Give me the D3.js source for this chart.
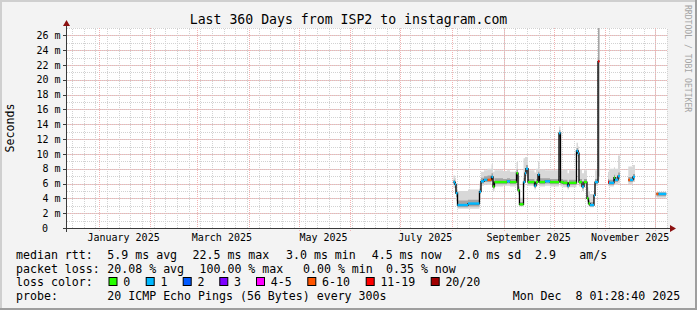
<!DOCTYPE html>
<html>
<head>
<meta charset="utf-8">
<script src="https://cdn.jsdelivr.net/npm/d3@7"></script>
<style>
  body { margin: 0; background: #fff; }
  svg { display: block; }
  text { font-family: "DejaVu Sans Mono", monospace; fill: #000; white-space: pre; }
</style>
</head>
<body>
<svg id="chart" width="697" height="310"></svg>
<script>
// sample start times (one sample lasts until the next start)
var times = [
  "2025-08-01T23:00", "2025-08-02T21:00", "2025-08-03T11:00", "2025-08-04T09:00", "2025-08-10T16:00",
  "2025-08-17T13:00", "2025-08-18T11:00", "2025-08-20T06:00", "2025-08-22T09:00", "2025-08-24T18:00",
  "2025-08-25T16:00", "2025-08-26T13:00", "2025-08-31T16:00", "2025-09-03T01:00", "2025-09-04T21:00",
  "2025-09-08T18:00", "2025-09-09T16:00", "2025-09-10T13:00", "2025-09-12T23:00", "2025-09-13T21:00",
  "2025-09-14T11:00", "2025-09-15T16:00", "2025-09-19T13:00", "2025-09-20T11:00", "2025-09-21T16:00",
  "2025-09-22T13:00", "2025-09-25T21:00", "2025-09-28T21:00", "2025-10-04T06:00", "2025-10-05T04:00",
  "2025-10-06T16:00", "2025-10-09T09:00", "2025-10-10T06:00", "2025-10-14T18:00", "2025-10-15T16:00",
  "2025-10-16T06:00", "2025-10-18T01:00", "2025-10-19T06:00", "2025-10-21T01:00", "2025-10-21T23:00",
  "2025-10-22T21:00", "2025-10-25T06:00", "2025-10-25T21:00", "2025-10-27T16:00", "2025-10-28T13:00",
  "2025-11-02T16:00", "2025-11-03T06:00", "2025-11-06T06:00", "2025-11-06T21:00", "2025-11-08T16:00",
  "2025-11-09T21:00", "2025-11-14T20:00", "2025-11-15T21:00", "2025-11-17T16:00", "2025-11-18T21:00",
  "2025-12-01T18:00", "2025-12-02T23:00", "2025-12-07T14:00"
];
// median rtt in ms (null = no data)
var median = [
  6.2, 5.9, 4.7, 3.1, 3.3,
  4.9, 6.3, 6.5, 6.5, 6.9,
  5.6, 6.2, 6.2, 6.3, 6.2,
  7.4, 5.1, 3.2, 6.2, 7.4,
  8.0, 6.2, 5.7, 6.2, 7.2,
  6.2, 6.3, 6.2, 12.8, 6.2,
  6.1, 5.7, 6.1, 10.4, 10.1,
  6.2, 5.6, 6.2, 4.0, 3.3,
  3.1, 4.4, 6.2, 22.5, null,
  6.2, 6.1, 6.8, 6.5, 7.0,
  null, 6.5, 6.5, 6.9, null,
  4.6, 4.6, null
];
// index into the loss colour legend
var loss = [
  1, 1, 1, 1, 1,
  1, 1, 1, 5, 1,
  0, 0, 0, 1, 0,
  0, 0, 0, 1, 1,
  1, 0, 1, 0, 1,
  0, 1, 0, 1, 0,
  0, 1, 0, 1, 1,
  0, 1, 0, 0, 0,
  1, 1, 1, 6, 0,
  6, 1, 0, 1, 1,
  0, 5, 1, 1, 0,
  5, 1, 0
];
// outer smoke (lightest) and inner smoke, ms
var smokeLo = [
  5.4, 4.6, 3.6, 2.6, 2.6,  4.2, 5.7, 5.9, 5.8, 6.2,  5.0, 5.6, 5.7, 5.7, 5.6,
  6.6, 4.5, 2.9, 5.5, 6.6,  7.0, 5.7, 5.2, 5.7, 6.4,  5.6, 5.7, 5.6, 11.8, 5.6,
  5.5, 5.2, 5.5, 9.7, 9.4,  5.6, 5.0, 5.6, 3.5, 2.9,  2.8, 4.0, 5.7, 6.5, null,
  5.7, 5.6, 6.0, 5.8, 6.0,  null, 5.9, 5.9, 6.2, null,  4.1, 4.1, null
];
var smokeHi = [
  7.1, 6.8, 5.8, 5.0, 5.2,  6.0, 7.6, 7.8, 8.0, 8.6,  7.6, 7.8, 7.7, 7.8, 7.6,
  8.9, 7.0, 4.1, 9.4, 9.6,  9.6, 7.8, 7.5, 8.0, 9.0,  7.9, 7.8, 7.8, 13.7, 7.8,
  7.9, 7.4, 7.8, 11.5, 11.0,  7.9, 7.4, 7.8, 5.5, 5.0,  4.6, 5.8, 7.8, 27.5, null,
  7.6, 8.0, 8.2, 8.0, 9.8,  null, 8.3, 8.3, 8.5, null,  4.9, 4.9, null
];
var coreLo = [
  5.9, 5.4, 4.2, 2.8, 2.9,  4.6, 6.0, 6.2, 6.2, 6.5,  5.3, 5.9, 5.9, 6.0, 5.9,
  7.0, 4.8, 3.0, 5.9, 7.0,  7.6, 5.9, 5.4, 5.9, 6.8,  5.9, 6.0, 5.9, 12.3, 5.9,
  5.8, 5.4, 5.8, 10.0, 9.8,  5.9, 5.3, 5.9, 3.7, 3.1,  2.9, 4.2, 5.9, 7.0, null,
  5.9, 5.8, 6.4, 6.2, 6.6,  null, 6.2, 6.2, 6.5, null,  4.3, 4.3, null
];
var coreHi = [
  6.5, 6.2, 5.1, 3.7, 3.8,  5.3, 6.8, 7.0, 7.1, 7.4,  6.2, 6.7, 6.6, 6.7, 6.6,
  7.9, 5.6, 3.5, 6.8, 7.9,  8.5, 6.6, 6.2, 6.6, 7.6,  6.7, 6.7, 6.6, 13.2, 6.6,
  6.5, 6.1, 6.5, 10.8, 10.5,  6.6, 6.0, 6.6, 4.4, 3.7,  3.5, 4.8, 6.6, 27.5, null,
  6.6, 6.5, 7.2, 6.9, 7.5,  null, 6.9, 6.9, 7.3, null,  4.8, 4.8, null
];

var lossLabels = ["0", "1", "2", "3", "4-5", "6-10", "11-19", "20/20"];
var lossColors = ["#26ff00", "#00b8ff", "#0059ff", "#7e00ff", "#ff00ff", "#ff5500", "#ff0000", "#a10000"];

var yTickValues = [0, 2, 4, 6, 8, 10, 12, 14, 16, 18, 20, 22, 24, 26];
var yTickLabels = ["0", "2 m", "4 m", "6 m", "8 m", "10 m", "12 m", "14 m", "16 m", "18 m", "20 m", "22 m", "24 m", "26 m"];
var xLabelMonths = ["2025-01-01", "2025-03-01", "2025-05-01", "2025-07-01", "2025-09-01", "2025-11-01"];
var xLabels = ["January 2025", "March 2025", "May 2025", "July 2025", "September 2025", "November 2025"];

var rttStats = ["5.9 ms avg", "22.5 ms max", "3.0 ms min", "4.5 ms now", "2.0 ms sd", "2.9", "am/s"];
var lossStats = ["20.08 % avg", "100.00 % max", "0.00 % min", "0.35 % now"];
var probeText = "20 ICMP Echo Pings (56 Bytes) every 300s";
var stampText = "Mon Dec  8 01:28:40 2025";
var titleText = "Last 360 Days from ISP2 to instagram.com";

var W = 697, H = 310;
var margin = {left: 67, right: 30, top: 28, bottom: 82};

var parse = d3.utcParse("%Y-%m-%dT%H:%M");
var endTime = new Date(Date.UTC(2025, 11, 8, 1, 28, 40));
var startTime = new Date(endTime.getTime() - 360 * 86400000);

var x = d3.scaleUtc().domain([startTime, endTime]).range([margin.left, W - margin.right]);
var y = d3.scaleLinear().domain([0, 27]).range([H - margin.bottom, margin.top]);

var svg = d3.select("#chart");

// background and frame
svg.append("rect").attr("width", W).attr("height", H).attr("fill", "#f3f3f3");
svg.append("path").attr("d", "M0," + H + "V0H" + W).attr("fill", "none").attr("stroke", "#cfcfcf").attr("stroke-width", 4);
svg.append("path").attr("d", "M0," + H + "H" + W + "V0").attr("fill", "none").attr("stroke", "#9e9e9e").attr("stroke-width", 4);

svg.append("rect")
  .attr("x", x.range()[0]).attr("y", y.range()[1])
  .attr("width", x.range()[1] - x.range()[0])
  .attr("height", y.range()[0] - y.range()[1])
  .attr("fill", "#ffffff");

// grid
var grid = svg.append("g").attr("shape-rendering", "crispEdges");
var minorX = d3.utcMonday.range(startTime, endTime);
var majorX = d3.utcMonth.range(startTime, endTime);
var minorY = d3.range(1, 28, 1);
var minorColor = "#d2d2d2", majorColor = "#f2b2b2";

grid.selectAll(".minor-x").data(minorX).enter().append("line")
  .attr("x1", function(d) { return Math.round(x(d)) + 0.5; })
  .attr("x2", function(d) { return Math.round(x(d)) + 0.5; })
  .attr("y1", y(0)).attr("y2", y.range()[1])
  .attr("stroke", minorColor).attr("stroke-dasharray", "1,1");
grid.selectAll(".minor-y").data(minorY).enter().append("line")
  .attr("x1", x.range()[0]).attr("x2", x.range()[1])
  .attr("y1", function(d) { return Math.round(y(d)) + 0.5; })
  .attr("y2", function(d) { return Math.round(y(d)) + 0.5; })
  .attr("stroke", minorColor).attr("stroke-dasharray", "1,1");
grid.selectAll(".major-x").data(majorX).enter().append("line")
  .attr("x1", function(d) { return Math.round(x(d)) + 0.5; })
  .attr("x2", function(d) { return Math.round(x(d)) + 0.5; })
  .attr("y1", y(0) + 3).attr("y2", y.range()[1])
  .attr("stroke", majorColor).attr("stroke-dasharray", "1,1");
grid.selectAll(".major-y").data(yTickValues.slice(1)).enter().append("line")
  .attr("x1", x.range()[0] - 3).attr("x2", x.range()[1])
  .attr("y1", function(d) { return Math.round(y(d)) + 0.5; })
  .attr("y2", function(d) { return Math.round(y(d)) + 0.5; })
  .attr("stroke", majorColor).attr("stroke-dasharray", "1,1");

// expand samples into step points
var samples = times.map(function(t, i) {
  return {t: parse(t), med: median[i], loss: loss[i], lo: smokeLo[i], hi: smokeHi[i], clo: coreLo[i], chi: coreHi[i]};
});
var steps = [];
samples.forEach(function(s, i) {
  if (s.med == null || i == samples.length - 1) { steps.push(null); return; }
  var t1 = samples[i + 1].t;
  steps.push({t: s.t, s: s}, {t: t1, s: s});
});

var plot = svg.append("g");
var clipTop = y.range()[1];

var outerArea = d3.area()
  .defined(function(d) { return d; })
  .x(function(d) { return x(d.t); })
  .y0(function(d) { return y(d.s.lo); })
  .y1(function(d) { return Math.max(clipTop, y(d.s.hi)); });
var coreArea = d3.area()
  .defined(function(d) { return d; })
  .x(function(d) { return x(d.t); })
  .y0(function(d) { return y(d.s.clo); })
  .y1(function(d) { return Math.max(clipTop, y(d.s.chi)); });

plot.append("path").datum(steps).attr("d", outerArea).attr("fill", "#d8d8d8");
plot.append("path").datum(steps).attr("d", coreArea).attr("fill", "#a4a4a4");

var medLine = d3.line()
  .defined(function(d) { return d; })
  .x(function(d) { return x(d.t); })
  .y(function(d) { return y(d.s.med); });
plot.append("path").datum(steps).attr("d", medLine)
  .attr("fill", "none").attr("stroke", "#000").attr("stroke-width", 1.3);

plot.selectAll(".loss-seg")
  .data(samples.filter(function(s, i) { return s.med != null && i < samples.length - 1; }))
  .enter().append("line")
  .attr("x1", function(d) { return x(d.t); })
  .attr("x2", function(d) { var i = samples.indexOf(d); return x(samples[i + 1].t); })
  .attr("y1", function(d) { return y(d.med); })
  .attr("y2", function(d) { return y(d.med); })
  .attr("stroke", function(d) { return lossColors[d.loss]; })
  .attr("stroke-width", 2.4);

// axes
var axisColor = "#3a3a3a";
var arrowColor = "#8c1111";
var ax = svg.append("g").attr("shape-rendering", "crispEdges");
ax.append("line").attr("x1", x.range()[0] - 4).attr("x2", x.range()[1] + 3)
  .attr("y1", y(0) + 0.5).attr("y2", y(0) + 0.5).attr("stroke", axisColor);
ax.append("line").attr("x1", x.range()[0] - 0.5).attr("x2", x.range()[0] - 0.5)
  .attr("y1", y(0) + 4).attr("y2", y.range()[1] - 2).attr("stroke", axisColor);
ax.selectAll(".ytick").data(yTickValues).enter().append("line")
  .attr("x1", x.range()[0] - 4).attr("x2", x.range()[0])
  .attr("y1", function(d) { return Math.round(y(d)) + 0.5; })
  .attr("y2", function(d) { return Math.round(y(d)) + 0.5; })
  .attr("stroke", axisColor);
svg.append("path")
  .attr("d", "M" + (x.range()[1] + 3) + "," + (y(0) - 3) + "l6,3.5l-6,3.5z")
  .attr("fill", arrowColor);
svg.append("path")
  .attr("d", "M" + (x.range()[0] - 4) + "," + (y.range()[1] - 2) + "l3.5,-6l3.5,6z")
  .attr("fill", arrowColor);

// y labels
svg.selectAll(".ylab").data(yTickValues).enter().append("text")
  .attr("x", function(d) { return d == 0 ? 48 : 60.5; })
  .attr("y", function(d) { return y(d); })
  .attr("dy", "0.36em")
  .attr("text-anchor", "end")
  .style("font-size", "10px")
  .text(function(d, i) { return yTickLabels[i]; });

// x labels (centred half a month after the month start)
svg.selectAll(".xlab").data(xLabelMonths).enter().append("text")
  .attr("x", function(d) { return x(d3.utcDay.offset(parse(d + "T00:00"), 15)); })
  .attr("y", 241)
  .attr("text-anchor", "middle")
  .style("font-size", "10px")
  .text(function(d, i) { return xLabels[i]; });

// title
svg.append("text").attr("x", W / 2).attr("y", 23.5).attr("text-anchor", "middle")
  .style("font-size", "13.2px").text(titleText);

// vertical label
svg.append("text").attr("transform", "translate(14,128) rotate(-90)")
  .attr("text-anchor", "middle").style("font-size", "11.6px").text("Seconds");

// watermark
svg.append("text").attr("transform", "translate(685,5) rotate(90)")
  .style("font-size", "8.1px").style("fill", "#a4a4a4").text("RRDTOOL / TOBI OETIKER");

// legend
var leg = svg.append("g").style("font-size", "11.6px");
var rowY = [259, 272.5, 286, 299.5];
leg.append("text").attr("x", 16).attr("y", rowY[0]).text("median rtt:");
var rttX = [107.3, 192.5, 286, 371.7, 458.3, 535, 579.3];
rttStats.forEach(function(s, i) { leg.append("text").attr("x", rttX[i]).attr("y", rowY[0]).text(s); });

leg.append("text").attr("x", 16).attr("y", rowY[1]).text("packet loss:");
var lossX = [107.3, 199.5, 303, 386];
lossStats.forEach(function(s, i) { leg.append("text").attr("x", lossX[i]).attr("y", rowY[1]).text(s); });

leg.append("text").attr("x", 16).attr("y", rowY[2]).text("loss color:");
var boxX = [108.5, 145.7, 182.7, 219.3, 256, 307.3, 365.7, 430.7];
lossLabels.forEach(function(s, i) {
  leg.append("rect").attr("x", boxX[i] + 0.5).attr("y", rowY[2] - 8.5)
    .attr("width", 8).attr("height", 8)
    .attr("fill", lossColors[i]).attr("stroke", "#000").attr("stroke-width", 1);
  leg.append("text").attr("x", boxX[i] + 14.7).attr("y", rowY[2]).text(s);
});

leg.append("text").attr("x", 16).attr("y", rowY[3]).text("probe:");
leg.append("text").attr("x", 107.3).attr("y", rowY[3]).text(probeText);
leg.append("text").attr("x", 512.7).attr("y", rowY[3]).text(stampText);
</script>
</body>
</html>
